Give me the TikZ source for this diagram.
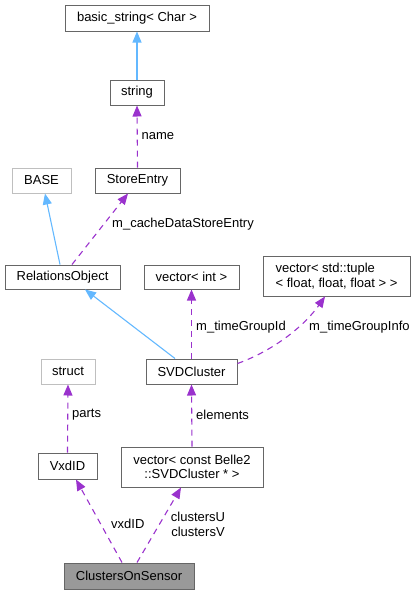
\documentclass[tikz,border=0pt]{standalone}
\usepackage{fontspec}
\setmainfont{Liberation Sans}
\usepackage{xcolor}
\usetikzlibrary{arrows.meta, positioning}

\definecolor{boxgray}{HTML}{666666}
\definecolor{extgray}{HTML}{BFBFBF}
\definecolor{selgray}{HTML}{999999}
\definecolor{inhblue}{HTML}{63B8FF}
\definecolor{usepurple}{HTML}{9A32CD}

\begin{document}
\begin{tikzpicture}[x=1pt, y=-1pt,
    cls/.style={draw=boxgray, fill=white, line width=1pt, inner sep=0pt, font=\fontsize{13}{14.5}\selectfont},
    extcls/.style={cls, draw=extgray},
    selcls/.style={cls, fill=selgray},
    inh/.style={-{Triangle[length=11pt, width=9pt]}, inhblue, line width=1.1pt},
    uses/.style={-{Triangle[length=11pt, width=9pt]}, usepurple, line width=1.1pt, dash pattern=on 6pt off 5pt},
    lbl/.style={inner sep=0pt, font=\fontsize{13}{14.5}\selectfont}]
      \useasboundingbox (0,0) rectangle (416,595);

      % Classes
      \node[cls, minimum width=144pt, minimum height=26pt] (basic) at (137,18) {basic\_string< Char >};
      \node[cls, minimum width=54pt, minimum height=25pt] (string) at (137,92.5) {string};
      \node[extcls, minimum width=59pt, minimum height=25pt] (base) at (41.5,180.5) {BASE};
      \node[cls, minimum width=85pt, minimum height=25pt] (storeentry) at (137.5,180.5) {StoreEntry};
      \node[cls, minimum width=115pt, minimum height=24pt] (relobj) at (62.5,277) {RelationsObject};
      \node[cls, minimum width=95pt, minimum height=24pt] (vecint) at (191.5,277) {vector< int >};
      \node[cls, minimum width=147pt, minimum height=40pt, align=left] (vectuple) at (336.5,276) {vector< std::tuple\\< float, float, float > >};
      \node[cls, minimum width=91pt, minimum height=25pt] (svdcluster) at (191.5,371.5) {SVDCluster};
      \node[extcls, minimum width=54pt, minimum height=25pt] (struct) at (68,371.5) {struct};
      \node[cls, minimum width=59pt, minimum height=26pt] (vxdid) at (67.5,466) {VxdID};
      \node[cls, minimum width=142pt, minimum height=40pt, align=center] (vecclusters) at (192,467) {vector< const Belle2\\::SVDCluster * >};
      \node[selcls, minimum width=130pt, minimum height=26pt] (cos) at (129,576) {ClustersOnSensor};

      % Inheritance
      \draw[inh] (string.north) -- (basic.south);
      \draw[inh] ([xshift=-2.5pt]relobj.north) -- ([xshift=3.5pt]base.south);
      \draw[inh] ([xshift=-16.5pt]svdcluster.north) -- ([xshift=22.5pt]relobj.south);

      % Members
      \draw[uses] (storeentry.north) -- (string.south);
      \draw[uses] ([xshift=9.5pt]relobj.north) -- ([xshift=-9.5pt]storeentry.south);
      \draw[uses] (svdcluster.north) -- (vecint.south);
      \draw[uses] ([yshift=8pt]svdcluster.east) .. controls (275,350) and (305,325) .. ([xshift=-11.5pt]vectuple.south);
      \draw[uses] (vxdid.north) -- (struct.south);
      \draw[uses] (vecclusters.north) -- (svdcluster.south);
      \draw[uses] ([xshift=-7pt]cos.north) -- ([xshift=8.5pt]vxdid.south);
      \draw[uses] ([xshift=8pt]cos.north) -- ([xshift=-11pt]vecclusters.south);

      % Labels
      \node[lbl, anchor=west] (lname) at (141.5,136) {name};
      \node[lbl, anchor=west] (lcache) at (112,224) {m\_cacheDataStoreEntry};
      \node[lbl, anchor=west] (lgroupid) at (196,327) {m\_timeGroupId};
      \node[lbl, anchor=west] (lgroupinfo) at (309,327) {m\_timeGroupInfo};
      \node[lbl, anchor=west] (lparts) at (72,415) {parts};
      \node[lbl, anchor=west] (lelements) at (196,415) {elements};
      \node[lbl, anchor=west] (lvxdid) at (111,524) {vxdID};
      \node[lbl, align=center] (lclusters) at (198,524.5) {clustersU\\clustersV};
    \end{tikzpicture}
\end{document}
